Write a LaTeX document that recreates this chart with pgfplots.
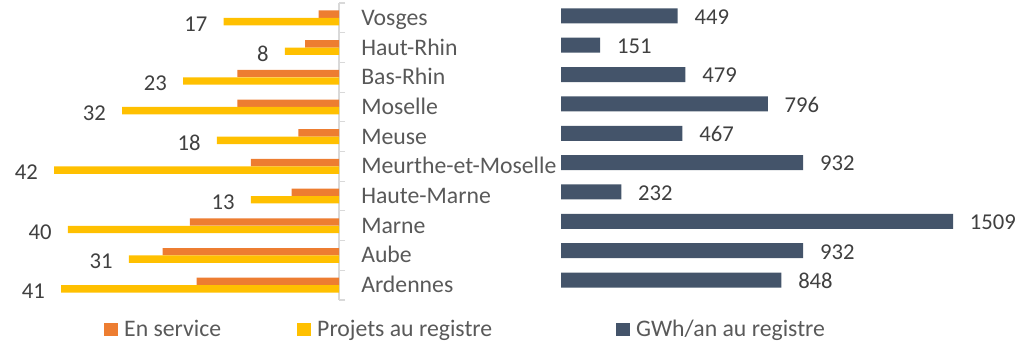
\documentclass[border=0pt]{standalone}
\usepackage{pgfplots}
\pgfplotsset{compat=1.18}
\usepackage{pgfplotstable}
\usepackage{fontspec}
\setmainfont{Carlito}

\definecolor{enservice}{HTML}{ED7D31}
\definecolor{projets}{HTML}{FFC000}
\definecolor{gwh}{HTML}{44546A}
\definecolor{axisgray}{HTML}{D9D9D9}
\definecolor{labelgray}{HTML}{595959}
\definecolor{valgray}{HTML}{404040}

% idx: position from the bottom (Ardennes) to the top (Vosges)
\pgfplotstableread{
idx service projets gwh
0   21      41      848
1   26      31      932
2   22      40      1509
3   7       13      232
4   13      42      932
5   6       18      467
6   15      32      796
7   15      23      479
8   5       8       151
9   3       17      449
}\depts

\newcommand{\valuefont}{\fontsize{17}{20}\selectfont}
\newcommand{\labelfont}{\fontsize{17.8}{21}\selectfont}

\begin{document}
\begin{tikzpicture}
\useasboundingbox (0,0) rectangle (763.5pt,257.25pt);

% left half: installations, bars growing to the left
\begin{axis}[
  at={(0pt,32.25pt)}, anchor=south west,
  scale only axis, width=254.25pt, height=222.75pt,
  xbar, bar width=5.55pt,
  xmin=-50, xmax=0, ymin=-0.5, ymax=9.5,
  enlargelimits=false,
  axis x line=none,
  axis y line*=right,
  y axis line style={draw=axisgray, line width=1.1pt},
  ytick={0,...,9},
  yticklabels={Ardennes,Aube,Marne,Haute-Marne,Meurthe-et-Moselle,Meuse,Moselle,Bas-Rhin,Haut-Rhin,Vosges},
  major tick length=0pt,
  minor ytick={-0.5,0.5,...,9.5},
  minor tick length=4.5pt,
  tick align=outside,
  minor tick style={draw=axisgray, line width=0.8pt},
  yticklabel style={anchor=base west, inner sep=0pt, xshift=16.5pt, yshift=-5.6pt, font=\labelfont, text=labelgray},
  clip=false,
  /pgf/number format/assume math mode=true,
]
\addplot[fill=enservice, draw=none, bar shift=2.8pt]
  table[x expr=-\thisrow{service}, y=idx]{\depts};
\addplot[fill=projets, draw=none, bar shift=-2.8pt,
  point meta=\thisrow{projets}, nodes near coords,
  every node near coord/.append style={anchor=east, inner sep=0pt, xshift=-12pt, yshift=-1.8pt, font=\valuefont, text=valgray}]
  table[x expr=-\thisrow{projets}, y=idx]{\depts};
\end{axis}

% right half: energy on the register
\begin{axis}[
  at={(420.75pt,36.2pt)}, anchor=south west,
  scale only axis, width=341pt, height=220.2pt,
  xbar, bar width=11.25pt,
  xmin=0, xmax=1750, ymin=-0.5, ymax=9.5,
  enlargelimits=false,
  axis lines=none,
  clip=false,
  /pgf/number format/assume math mode=true,
  /pgf/number format/1000 sep={},
  legend columns=3,
  legend cell align=left,
  legend image code/.code={\fill[#1] (0pt,-5pt) rectangle (10.5pt,5pt);},
  legend style={at={(-1.00517,-0.1185)}, anchor=west, draw=none, fill=none,
    inner sep=0pt, column sep=0pt,
    nodes={inner sep=0pt, text=labelgray, font=\labelfont}},
]
\addlegendimage{fill=enservice, draw=none}
\addlegendentry{\hspace*{4.5pt}\makebox[129.75pt][l]{En service}}
\addlegendimage{fill=projets, draw=none}
\addlegendentry{\hspace*{4.5pt}\makebox[224.25pt][l]{Projets au registre}}
\addlegendimage{fill=gwh, draw=none}
\addlegendentry{\hspace*{4.5pt}GWh/an au registre}
\addplot[fill=gwh, draw=none, bar shift=0pt, forget plot,
  nodes near coords,
  every node near coord/.append style={anchor=west, inner sep=0pt, xshift=12.5pt, yshift=-0.8pt, font=\valuefont, text=valgray}]
  table[x=gwh, y=idx]{\depts};
\end{axis}
\end{tikzpicture}
\end{document}
